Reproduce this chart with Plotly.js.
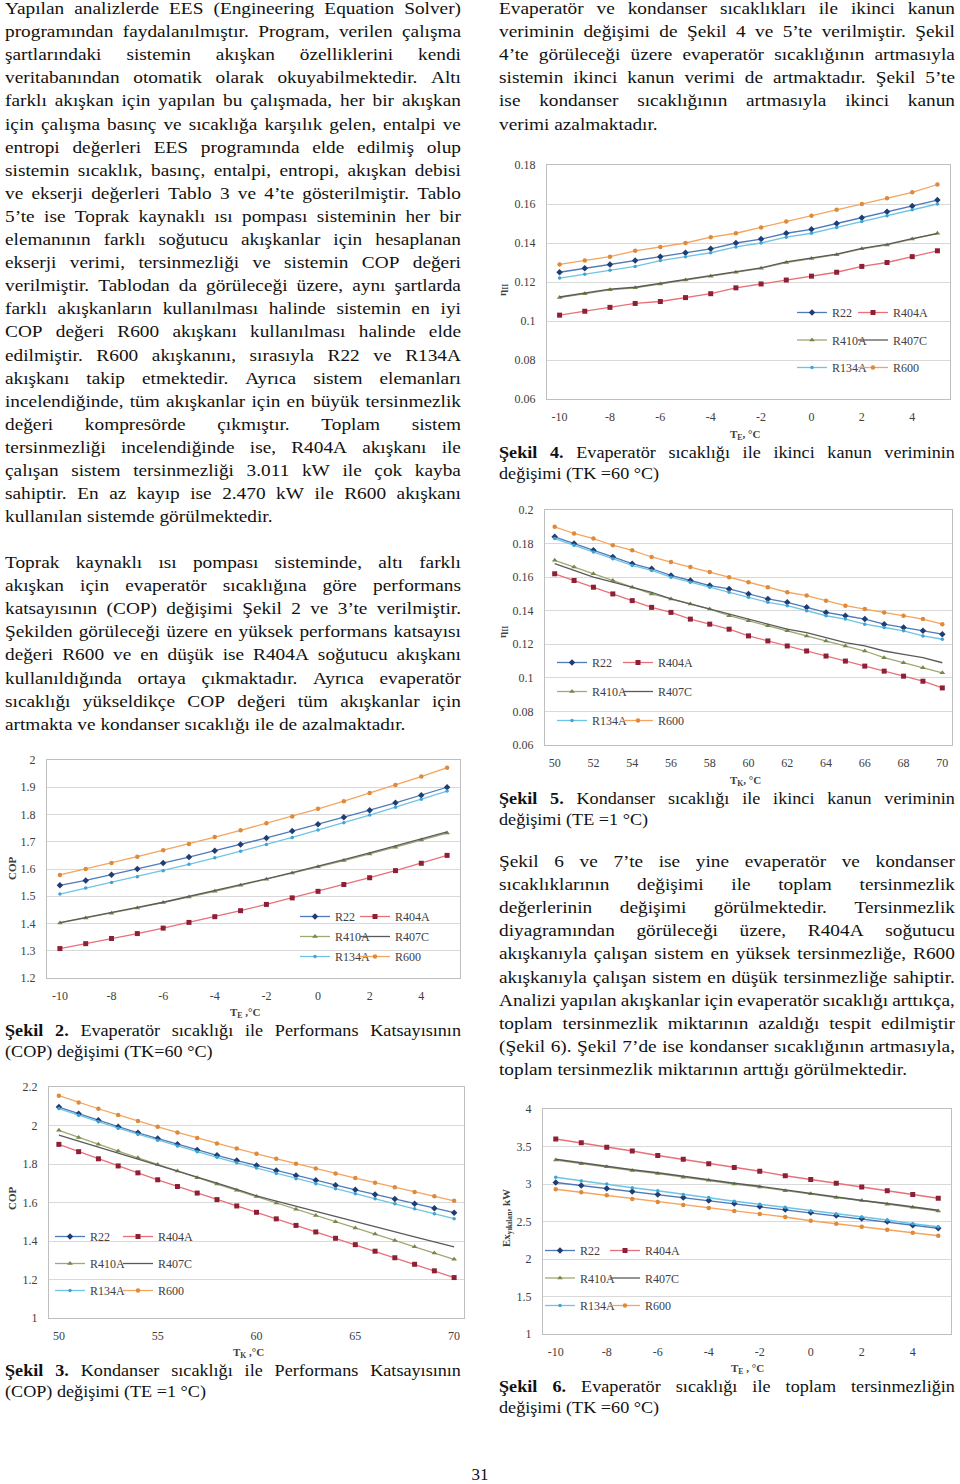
<!DOCTYPE html>
<html><head><meta charset="utf-8">
<script src="https://cdn.plot.ly/plotly-3.0.1.min.js"></script>
<style>
html,body{margin:0;padding:0;background:#fff;}
#page{position:relative;width:960px;height:1484px;overflow:hidden;font-family:"Liberation Serif","Times New Roman",serif;color:#111;}
.ln{position:absolute;font-size:16.5px;line-height:18px;white-space:nowrap;transform-origin:0 0;}
.ln.j{display:flex;justify-content:space-between;}
.chart{position:absolute;}
</style></head>
<body><div id="page"></div>
<script>
// ---------------- DATA ----------------
const refrigerants = ['R22','R404A','R410A','R407C','R134A','R600'];
const evapTemps = [-10,-9,-8,-7,-6,-5,-4,-3,-2,-1,0,1,2,3,4,5];
const condTemps = [50,51,52,53,54,55,56,57,58,59,60,61,62,63,64,65,66,67,68,69,70];
const evapTicks = [-10,-8,-6,-4,-2,0,2,4];
const evapTickText = ['-10','-8','-6','-4','-2','0','2','4'];
const condTicks5 = [50,55,60,65,70];
const condTicks2 = [50,52,54,56,58,60,62,64,66,68,70];

// Şekil 2: COP vs T_E (TK=60 °C)
const copTE_R22   = [1.540,1.558,1.579,1.600,1.622,1.644,1.667,1.690,1.714,1.739,1.764,1.790,1.816,1.843,1.871,1.900];
const copTE_R404A = [1.308,1.326,1.345,1.363,1.383,1.404,1.425,1.447,1.470,1.494,1.518,1.543,1.568,1.594,1.621,1.650];
const copTE_R410A = [1.402,1.420,1.438,1.457,1.477,1.497,1.518,1.540,1.562,1.585,1.608,1.631,1.655,1.680,1.706,1.732];
const copTE_R407C = [1.403,1.421,1.440,1.459,1.478,1.499,1.520,1.542,1.564,1.587,1.610,1.634,1.659,1.684,1.710,1.736];
const copTE_R134A = [1.508,1.530,1.550,1.572,1.594,1.617,1.641,1.665,1.690,1.716,1.743,1.770,1.798,1.827,1.856,1.886];
const copTE_R600  = [1.578,1.600,1.622,1.645,1.669,1.692,1.717,1.742,1.768,1.793,1.821,1.849,1.879,1.908,1.939,1.972];

// Şekil 3: COP vs T_K (TE=1 °C)
const copTK_R22   = [2.096,2.061,2.027,1.994,1.962,1.932,1.902,1.873,1.845,1.818,1.792,1.766,1.740,1.715,1.690,1.666,1.642,1.618,1.594,1.570,1.547];
const copTK_R404A = [1.902,1.864,1.827,1.790,1.754,1.718,1.683,1.649,1.615,1.582,1.549,1.515,1.481,1.447,1.414,1.381,1.347,1.313,1.279,1.245,1.210];
const copTK_R410A = [1.975,1.938,1.902,1.867,1.832,1.797,1.763,1.729,1.696,1.663,1.631,1.598,1.565,1.533,1.500,1.468,1.436,1.403,1.370,1.338,1.305];
const copTK_R407C = [1.950,1.919,1.888,1.857,1.827,1.797,1.765,1.733,1.701,1.668,1.635,1.607,1.580,1.553,1.526,1.499,1.473,1.447,1.421,1.395,1.369];
const copTK_R134A = [2.088,2.053,2.019,1.986,1.955,1.924,1.894,1.864,1.835,1.806,1.779,1.751,1.724,1.697,1.671,1.645,1.619,1.593,1.567,1.541,1.516];
const copTK_R600  = [2.155,2.120,2.087,2.055,2.023,1.993,1.964,1.935,1.907,1.880,1.853,1.827,1.801,1.776,1.751,1.727,1.703,1.679,1.655,1.632,1.609];

// Şekil 4: ηII vs T_E (TK=60 °C)
const etaTE_R22   = [0.125,0.127,0.129,0.131,0.133,0.135,0.137,0.140,0.142,0.145,0.147,0.150,0.153,0.156,0.159,0.162];
const etaTE_R404A = [0.103,0.105,0.107,0.109,0.110,0.112,0.114,0.117,0.119,0.121,0.123,0.125,0.128,0.130,0.133,0.136];
const etaTE_R410A = [0.112,0.114,0.116,0.117,0.119,0.121,0.123,0.125,0.127,0.130,0.132,0.134,0.137,0.139,0.142,0.145];
const etaTE_R407C = [0.1123,0.1143,0.1163,0.1173,0.1193,0.1213,0.1233,0.1253,0.1273,0.1303,0.1323,0.1343,0.1373,0.1393,0.1423,0.1448];
const etaTE_R134A = [0.122,0.124,0.126,0.128,0.131,0.133,0.135,0.138,0.140,0.143,0.145,0.148,0.151,0.154,0.157,0.160];
const etaTE_R600  = [0.129,0.131,0.133,0.136,0.138,0.140,0.143,0.145,0.148,0.151,0.154,0.157,0.160,0.163,0.166,0.170];

// Şekil 5: ηII vs T_K (TE=1 °C)
const etaTK_R22   = [0.184,0.180,0.176,0.172,0.168,0.165,0.161,0.158,0.155,0.153,0.150,0.147,0.145,0.142,0.139,0.137,0.135,0.132,0.130,0.128,0.126];
const etaTK_R404A = [0.162,0.158,0.154,0.150,0.146,0.142,0.139,0.135,0.132,0.129,0.125,0.122,0.119,0.116,0.113,0.110,0.107,0.104,0.101,0.098,0.094];
const etaTK_R410A = [0.170,0.166,0.162,0.158,0.154,0.150,0.147,0.144,0.141,0.137,0.134,0.131,0.128,0.125,0.122,0.119,0.116,0.112,0.109,0.106,0.103];
const etaTK_R407C = [0.168,0.164,0.160,0.157,0.154,0.151,0.147,0.144,0.141,0.138,0.135,0.132,0.129,0.127,0.124,0.121,0.119,0.116,0.114,0.112,0.109];
const etaTK_R134A = [0.183,0.179,0.175,0.171,0.167,0.164,0.160,0.157,0.154,0.151,0.148,0.145,0.143,0.140,0.137,0.135,0.132,0.130,0.128,0.125,0.123];
const etaTK_R600  = [0.190,0.186,0.183,0.179,0.176,0.172,0.169,0.166,0.163,0.160,0.157,0.154,0.151,0.149,0.146,0.143,0.141,0.139,0.137,0.135,0.132];

// Şekil 6: total irreversibility (kW) vs T_E (TK=60 °C)
const exTE_R22   = [3.02,2.98,2.94,2.90,2.86,2.82,2.78,2.74,2.70,2.66,2.62,2.58,2.54,2.50,2.45,2.41];
const exTE_R404A = [3.60,3.55,3.49,3.44,3.38,3.33,3.27,3.22,3.17,3.11,3.06,3.01,2.96,2.91,2.86,2.81];
const exTE_R410A = [3.32,3.27,3.23,3.18,3.14,3.09,3.05,3.00,2.96,2.91,2.87,2.82,2.78,2.73,2.69,2.64];
const exTE_R407C = [3.33,3.28,3.24,3.19,3.15,3.10,3.06,3.01,2.97,2.92,2.88,2.83,2.78,2.74,2.69,2.65];
const exTE_R134A = [3.09,3.04,3.00,2.95,2.91,2.86,2.82,2.77,2.73,2.69,2.64,2.60,2.56,2.52,2.47,2.43];
const exTE_R600  = [2.93,2.89,2.85,2.80,2.76,2.72,2.68,2.64,2.60,2.56,2.51,2.47,2.43,2.39,2.35,2.31];

// ---------------- TEXT ----------------
const leftPara1 = [
"Yapılan analizlerde EES (Engineering Equation Solver)",
"programından faydalanılmıştır. Program, verilen çalışma",
"şartlarındaki sistemin akışkan özelliklerini kendi",
"veritabanından otomatik olarak okuyabilmektedir. Altı",
"farklı akışkan için yapılan bu çalışmada, her bir akışkan",
"için çalışma basınç ve sıcaklığa karşılık gelen, entalpi ve",
"entropi değerleri EES programında elde edilmiş olup",
"sistemin sıcaklık, basınç, entalpi, entropi, akışkan debisi",
"ve ekserji değerleri Tablo 3 ve 4’te gösterilmiştir. Tablo",
"5’te ise Toprak kaynaklı ısı pompası sisteminin her bir",
"elemanının farklı soğutucu akışkanlar için hesaplanan",
"ekserji verimi, tersinmezliği ve sistemin COP değeri",
"verilmiştir. Tablodan da görüleceği üzere, aynı şartlarda",
"farklı akışkanların kullanılması halinde sistemin en iyi",
"COP değeri R600 akışkanı kullanılması halinde elde",
"edilmiştir. R600 akışkanını, sırasıyla R22 ve R134A",
"akışkanı takip etmektedir. Ayrıca sistem elemanları",
"incelendiğinde, tüm akışkanlar için en büyük tersinmezlik",
"değeri kompresörde çıkmıştır. Toplam sistem",
"tersinmezliği incelendiğinde ise, R404A akışkanı ile",
"çalışan sistem tersinmezliği 3.011 kW ile çok kayba",
"sahiptir. En az kayıp ise 2.470 kW ile R600 akışkanı",
"kullanılan sistemde görülmektedir."];
const leftPara2 = [
"Toprak kaynaklı ısı pompası sisteminde, altı farklı",
"akışkan için evaperatör sıcaklığına göre performans",
"katsayısının (COP)  değişimi Şekil 2 ve 3’te verilmiştir.",
"Şekilden görüleceği üzere en yüksek performans katsayısı",
"değeri R600 ve en düşük ise R404A soğutucu akışkanı",
"kullanıldığında ortaya çıkmaktadır. Ayrıca evaperatör",
"sıcaklığı yükseldikçe COP değeri tüm akışkanlar için",
"artmakta ve kondanser sıcaklığı ile de azalmaktadır."];
const rightPara1 = [
"Evaperatör ve kondanser sıcaklıkları ile ikinci kanun",
"veriminin değişimi de Şekil 4 ve 5’te verilmiştir. Şekil",
"4’te görüleceği üzere evaperatör sıcaklığının artmasıyla",
"sistemin ikinci kanun verimi de artmaktadır. Şekil 5’te",
"ise kondanser sıcaklığının artmasıyla ikinci kanun",
"verimi azalmaktadır."];
const rightPara2 = [
"Şekil 6 ve 7’te ise yine evaperatör ve kondanser",
"sıcaklıklarının değişimi ile toplam tersinmezlik",
"değerlerinin değişimi görülmektedir. Tersinmezlik",
"diyagramından görüleceği üzere, R404A soğutucu",
"akışkanıyla çalışan sistem en yüksek tersinmezliğe, R600",
"akışkanıyla çalışan sistem en düşük tersinmezliğe sahiptir.",
"Analizi yapılan akışkanlar için evaperatör sıcaklığı arttıkça,",
"toplam tersinmezlik miktarının azaldığı tespit edilmiştir",
"(Şekil 6). Şekil 7’de ise kondanser sıcaklığının artmasıyla,",
"toplam tersinmezlik miktarının arttığı görülmektedir."];
const cap2 = ["*Şekil *2. Evaperatör sıcaklığı ile Performans Katsayısının","(COP) değişimi (TK=60 °C)"];
const cap3 = ["*Şekil *3. Kondanser sıcaklığı ile Performans Katsayısının","(COP) değişimi (TE =1 °C)"];
const cap4 = ["*Şekil *4. Evaperatör sıcaklığı ile ikinci kanun veriminin","değişimi (TK =60 °C)"];
const cap5 = ["*Şekil *5. Kondanser sıcaklığı ile ikinci kanun veriminin","değişimi (TE =1 °C)"];
const cap6 = ["*Şekil *6. Evaperatör sıcaklığı ile toplam tersinmezliğin","değişimi (TK =60 °C)"];
const pageNumber = "31";

// ---------------- TEXT RENDER ----------------
const page = document.getElementById('page');
function addLine(text, x, w, cy, justify, k){
  const d = document.createElement('div');
  d.className = 'ln' + (justify ? ' j' : '');
  d.style.left = x + 'px';
  d.style.top = Math.max(0, cy - 8) + 'px';
  d.style.width = (w / k) + 'px';
  d.style.transform = 'scaleX(' + k + ')';
  const words = text.split(/\s+/);
  if (justify) {
    words.forEach(wd => {
      const bold = wd.startsWith('*');
      const s = document.createElement(bold ? 'b' : 'span');
      s.textContent = bold ? wd.slice(1) : wd;
      d.appendChild(s);
    });
  } else {
    d.textContent = words.join(' ');
  }
  page.appendChild(d);
}
function addPara(lines, x, w, cy0, lh, k){
  lines.forEach((t, i) => addLine(t, x, w, cy0 + i * lh, i < lines.length - 1, k));
}
const LX = 5, LW = 456, RX = 499, RW = 456, KB = 1.17, KC = 1.10;
addPara(leftPara1, LX, LW, 8, 23.1, KB);
addPara(leftPara2, LX, LW, 562, 23.1, KB);
addPara(rightPara1, RX, RW, 8, 23.1, KB);
addPara(rightPara2, RX, RW, 861, 23.1, KB);
addPara(cap2, LX, LW, 1030, 21, KC);
addPara(cap3, LX, LW, 1370, 20.5, KC);
addPara(cap4, RX, RW, 452, 21, KC);
addPara(cap5, RX, RW, 798, 21, KC);
addPara(cap6, RX, RW, 1386, 21, KC);
(function(){
  const d = document.createElement('div');
  d.className = 'ln';
  d.style.left = '460px'; d.style.top = (1474 - 8) + 'px'; d.style.width = '40px';
  d.style.textAlign = 'center'; d.style.fontSize = '17px';
  d.textContent = pageNumber;
  page.appendChild(d);
})();

// ---------------- CHARTS ----------------
const FONT = 'Liberation Serif, Times New Roman, serif';
const STYLE = {
  R22:   {line:'#4f7ab8', marker:'#1f3d73', symbol:'diamond', size:5, mode:'lines+markers'},
  R404A: {line:'#e8707a', marker:'#8e1f35', symbol:'square', size:5, mode:'lines+markers'},
  R410A: {line:'#9bab72', marker:'#76874a', symbol:'triangle-up', size:5, mode:'lines+markers'},
  R407C: {line:'#5a5a5a', marker:'#5a5a5a', symbol:'circle', size:3, mode:'lines'},
  R134A: {line:'#6ec3e6', marker:'#3fa3d3', symbol:'circle', size:3.5, mode:'lines+markers'},
  R600:  {line:'#f5a45d', marker:'#dd8a3c', symbol:'circle', size:4.5, mode:'lines+markers'}
};
const col1 = ['R22','R410A','R134A'];

function drawChart(cfg){
  const box = cfg.box, plot = cfg.plot;
  const div = document.createElement('div');
  div.className = 'chart';
  div.style.left = box.left + 'px'; div.style.top = box.top + 'px';
  div.style.width = box.width + 'px'; div.style.height = box.height + 'px';
  page.appendChild(div);
  const pw = plot.r - plot.l, ph = plot.b - plot.t;
  const px = X => (X - plot.l) / pw;
  const py = Y => (plot.b - Y) / ph;
  const traces = refrigerants.map((name, i) => {
    const st = STYLE[name];
    return {
      type:'scatter', x: cfg.x, y: cfg.series[i], name: name, mode: st.mode,
      line:{color: st.line, width:1.3},
      marker:{symbol: st.symbol, size: st.size, color: st.marker},
      legend: col1.includes(name) ? 'legend' : 'legend2',
      legendgroup: name
    };
  });
  const axFont = {family: FONT, size: 12, color: '#404040'};
  const legBase = {
    xanchor:'left', yanchor:'top', bgcolor:'rgba(0,0,0,0)', borderwidth:0,
    font:{family: FONT, size: 12, color:'#404040'}, itemwidth:30,
    tracegroupgap: cfg.leg.gap, traceorder:'grouped', orientation:'v'
  };
  const xaxis = {range: cfg.xr, tickmode:'array', tickvals: cfg.xt, showgrid:false, zeroline:false,
      showline:true, mirror:true, linecolor:'#bfbfbf', linewidth:1, ticks:'', ticklabelstandoff:7,
      tickfont: axFont, fixedrange:true};
  if (cfg.xtt) xaxis.ticktext = cfg.xtt;
  const layout = {
    width: box.width, height: box.height,
    margin:{l: plot.l - box.left, r: box.left + box.width - plot.r, t: plot.t - box.top, b: box.top + box.height - plot.b, pad:0},
    paper_bgcolor:'rgba(0,0,0,0)', plot_bgcolor:'#ffffff', showlegend:true,
    font:{family: FONT, color:'#404040'},
    xaxis: xaxis,
    yaxis:{range: cfg.yr, tick0: cfg.y0, dtick: cfg.dy, showgrid:true, gridcolor:'#d9d9d9', gridwidth:1,
      zeroline:false, showline:true, mirror:true, linecolor:'#bfbfbf', linewidth:1, ticks:'',
      ticklabelstandoff:8, tickfont: axFont, fixedrange:true},
    legend: Object.assign({}, legBase, {x: px(cfg.leg.x1 - 40), y: py(cfg.leg.y - 15)}),
    legend2: Object.assign({}, legBase, {x: px(cfg.leg.x2 - 40), y: py(cfg.leg.y - 15)}),
    annotations:[
      {text: cfg.xtitle, xref:'paper', yref:'paper', x: px(cfg.xtPos[0]), y: py(cfg.xtPos[1]),
       showarrow:false, xanchor:'center', yanchor:'middle', font:{family: FONT, size: 11, color:'#404040'}},
      {text: cfg.ytitle, xref:'paper', yref:'paper', x: px(cfg.ytPos[0]), y: py(cfg.ytPos[1]),
       showarrow:false, textangle:-90, xanchor:'center', yanchor:'middle', font:{family: FONT, size: 11, color:'#404040'}}
    ]
  };
  Plotly.newPlot(div, traces, layout, {staticPlot:true, displayModeBar:false});
}

const E = 1e-9;
drawChart({ // Şekil 2
  box:{left:0, top:740, width:470, height:290}, plot:{l:47, r:460, t:760, b:978},
  x: evapTemps, xr:[-10.5, 5.5], xt: evapTicks, xtt: evapTickText, yr:[1.2 - E, 2 + E], y0:1.2, dy:0.1,
  series:[copTE_R22, copTE_R404A, copTE_R410A, copTE_R407C, copTE_R134A, copTE_R600],
  leg:{x1:335, x2:395, y:917, gap:1},
  xtitle:'<b>T<sub>E</sub> ,°C</b>', xtPos:[245, 1013], ytitle:'<b>COP</b>', ytPos:[12, 868]
});
drawChart({ // Şekil 3
  box:{left:0, top:1070, width:475, height:300}, plot:{l:49, r:464, t:1087, b:1318},
  x: condTemps, xr:[49.5, 70.5], xt: condTicks5, yr:[1 - E, 2.2 + E], y0:1, dy:0.2,
  series:[copTK_R22, copTK_R404A, copTK_R410A, copTK_R407C, copTK_R134A, copTK_R600],
  leg:{x1:90, x2:158, y:1237, gap:8},
  xtitle:'<b>T<sub>K</sub> ,°C</b>', xtPos:[248, 1353], ytitle:'<b>COP</b>', ytPos:[12, 1198]
});
drawChart({ // Şekil 4
  box:{left:495, top:150, width:465, height:300}, plot:{l:547, r:950, t:165, b:399},
  x: evapTemps, xr:[-10.5, 5.5], xt: evapTicks, xtt: evapTickText, yr:[0.06 - E, 0.18 + E], y0:0.06, dy:0.02,
  series:[etaTE_R22, etaTE_R404A, etaTE_R410A, etaTE_R407C, etaTE_R134A, etaTE_R600],
  leg:{x1:832, x2:893, y:313, gap:8.5},
  xtitle:'<b>T<sub>E</sub>, °C</b>', xtPos:[745, 435], ytitle:'<b>η<sub>II</sub></b>', ytPos:[503, 290]
});
drawChart({ // Şekil 5
  box:{left:495, top:495, width:465, height:300}, plot:{l:545, r:952, t:510, b:745},
  x: condTemps, xr:[49.5, 70.5], xt: condTicks2, yr:[0.06 - E, 0.2 + E], y0:0.06, dy:0.02,
  series:[etaTK_R22, etaTK_R404A, etaTK_R410A, etaTK_R407C, etaTK_R134A, etaTK_R600],
  leg:{x1:592, x2:658, y:663, gap:10},
  xtitle:'<b>T<sub>K</sub>, °C</b>', xtPos:[745, 781], ytitle:'<b>η<sub>II</sub></b>', ytPos:[503, 632]
});
drawChart({ // Şekil 6
  box:{left:495, top:1095, width:465, height:290}, plot:{l:543, r:951, t:1109, b:1334},
  x: evapTemps, xr:[-10.5, 5.5], xt: evapTicks, xtt: evapTickText, yr:[1 - E, 4 + E], y0:1, dy:0.5,
  series:[exTE_R22, exTE_R404A, exTE_R410A, exTE_R407C, exTE_R134A, exTE_R600],
  leg:{x1:580, x2:645, y:1251, gap:8.5},
  xtitle:'<b>T<sub>E</sub> , °C</b>', xtPos:[747, 1369], ytitle:'<b>Ex<sub>yıkılan</sub>, kW</b>', ytPos:[507, 1218]
});
</script></body></html>
